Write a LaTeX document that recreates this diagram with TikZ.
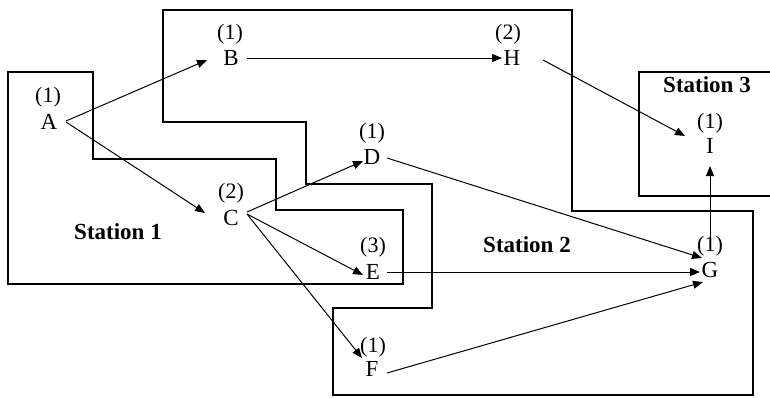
\documentclass[tikz,border=0pt]{standalone}
\usepackage{fontspec}
\setmainfont{Liberation Serif}
\usetikzlibrary{arrows.meta,calc}
\begin{document}
\begin{tikzpicture}[x=1pt,y=-1pt,
  stbox/.style={line width=1.3pt},
  arr/.style={line width=1pt,-{Triangle[length=10pt,width=8pt]}},
  lett/.style={font=\fontsize{23}{23}\selectfont, inner sep=0pt},
  cnt/.style={font=\fontsize{22}{22}\selectfont, inner sep=0pt},
  stlabel/.style={font=\fontsize{23}{23}\selectfont\bfseries, inner sep=0pt}]
\useasboundingbox (0,0) rectangle (770,397);
% station outlines
\draw[stbox] (8,72) -- (93,72) -- (93,159) -- (276,159) -- (276,210) -- (403,210) -- (403,284) -- (8,284) -- cycle;
\draw[stbox] (163,10) -- (572,10) -- (572,211) -- (753,211) -- (753,395) -- (333,395) -- (333,308) -- (432,308) -- (432,184) -- (306,184) -- (306,122) -- (163,122) -- cycle;
\draw[stbox] (775,72) -- (639,72) -- (639,196) -- (775,196);
% station labels
\node[stlabel] (s1) at (118,232) {Station 1};
\node[stlabel] (s2) at (527,245) {Station 2};
\node[stlabel] (s3) at (707,85) {Station 3};
% operations
\node[lett] (A) at (49,122) {A};  \node[cnt] (nA) at (48,97) {(1)};
\node[lett] (B) at (231,58) {B};  \node[cnt] (nB) at (230,34) {(1)};
\node[lett] (H) at (512,58) {H};  \node[cnt] (nH) at (508,34) {(2)};
\node[lett] (C) at (231,218) {C}; \node[cnt] (nC) at (231,193) {(2)};
\node[lett] (D) at (372,157) {D}; \node[cnt] (nD) at (372,133) {(1)};
\node[lett] (E) at (373,272) {E}; \node[cnt] (nE) at (373,247) {(3)};
\node[lett] (F) at (372,369) {F}; \node[cnt] (nF) at (373,347) {(1)};
\node[lett] (G) at (710,270) {G}; \node[cnt] (nG) at (710,246) {(1)};
\node[lett] (I) at (710,146) {I}; \node[cnt] (nI) at (710,123) {(1)};
% connectors
\draw[arr] ($(A)+(17,-1)$) -- ($(B)+(-24,2)$);
\draw[arr] ($(A)+(17,0)$) -- ($(C)+(-26,-5)$);
\draw[arr] ($(B)+(16,0)$) -- ($(H)+(-10,0)$);
\draw[arr] ($(H)+(31,2)$) -- ($(nI)+(-25,13)$);
\draw[arr] ($(C)+(16,-6)$) -- ($(D)+(-9,4)$);
\draw[arr] ($(C)+(16,-4)$) -- ($(E)+(-10,3)$);
\draw[arr] ($(C)+(16,-4)$) -- ($(F)+(-10,-11)$);
\draw[arr] ($(D)+(15,1)$) -- ($(G)+(-8,-12)$);
\draw[arr] ($(E)+(14,0)$) -- ($(G)+(-10,2)$);
\draw[arr] ($(F)+(15,4)$) -- ($(G)+(-7,12)$);
\draw[arr] ($(nG)+(0,-9)$) -- ($(I)+(0,20)$);
\end{tikzpicture}
\end{document}
